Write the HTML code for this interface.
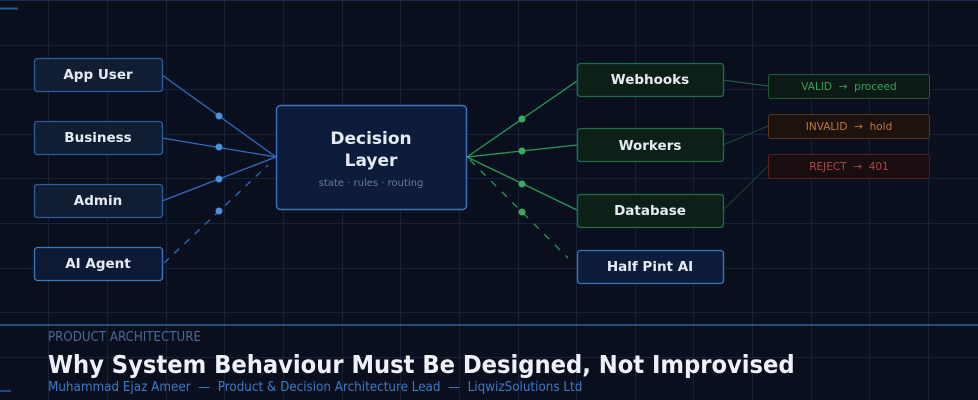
<!DOCTYPE html>
<html><head><meta charset="utf-8"><style>
body{margin:0;background:#0a0f1d;}
svg{display:block}
text{white-space:pre}
.n{font-family:"DejaVu Sans","Liberation Sans",sans-serif;font-weight:bold;font-size:13.5px;fill:#e6ebf3;text-anchor:middle}
.s{font-family:"DejaVu Sans","Liberation Sans",sans-serif;font-size:10px;text-anchor:middle}
.c{font-family:"DejaVu Sans Condensed","DejaVu Sans",sans-serif}
</style></head><body>
<svg width="978" height="400" viewBox="0 0 978 400" xmlns="http://www.w3.org/2000/svg" xml:space="preserve">
<rect width="978" height="400" fill="#0a0f1d"/>
<g stroke="#16223a" stroke-width="1">
<line x1="48.5" y1="0" x2="48.5" y2="400"/><line x1="107.5" y1="0" x2="107.5" y2="400"/><line x1="166.5" y1="0" x2="166.5" y2="400"/><line x1="224.5" y1="0" x2="224.5" y2="400"/><line x1="283.5" y1="0" x2="283.5" y2="400"/><line x1="342.5" y1="0" x2="342.5" y2="400"/><line x1="400.5" y1="0" x2="400.5" y2="400"/><line x1="459.5" y1="0" x2="459.5" y2="400"/><line x1="518.5" y1="0" x2="518.5" y2="400"/><line x1="576.5" y1="0" x2="576.5" y2="400"/><line x1="635.5" y1="0" x2="635.5" y2="400"/><line x1="693.5" y1="0" x2="693.5" y2="400"/><line x1="752.5" y1="0" x2="752.5" y2="400"/><line x1="811.5" y1="0" x2="811.5" y2="400"/><line x1="869.5" y1="0" x2="869.5" y2="400"/><line x1="928.5" y1="0" x2="928.5" y2="400"/>
<line x1="0" y1="45.5" x2="978" y2="45.5"/><line x1="0" y1="89.5" x2="978" y2="89.5"/><line x1="0" y1="134.5" x2="978" y2="134.5"/><line x1="0" y1="178.5" x2="978" y2="178.5"/><line x1="0" y1="223.5" x2="978" y2="223.5"/><line x1="0" y1="268.5" x2="978" y2="268.5"/><line x1="0" y1="312.5" x2="978" y2="312.5"/><line x1="0" y1="357.5" x2="978" y2="357.5"/>
</g>
<line x1="0" y1="0.5" x2="978" y2="0.5" stroke="#1c2c4a"/>
<line x1="0" y1="8.5" x2="18" y2="8.5" stroke="#2a5a9a" stroke-width="2"/>
<line x1="0" y1="391" x2="11" y2="391" stroke="#2a5a9a" stroke-width="1.5"/>
<g stroke="#2f6cc0" stroke-width="1.3" fill="none">
<line x1="162" y1="75" x2="276" y2="157"/>
<line x1="162" y1="138" x2="276" y2="157"/>
<line x1="162" y1="201" x2="276" y2="157"/>
<line x1="164" y1="263" x2="268" y2="165" stroke-dasharray="7,7"/>
</g>
<g fill="#4a90e0"><circle cx="219" cy="116" r="3.5"/><circle cx="219" cy="147" r="3.5"/><circle cx="219" cy="179" r="3.5"/><circle cx="219" cy="211" r="3.5"/></g>
<g stroke="#2a9a5a" stroke-width="1.3" fill="none">
<line x1="467" y1="157" x2="577" y2="81"/>
<line x1="467" y1="157" x2="577" y2="145"/>
<line x1="467" y1="157" x2="577" y2="210"/>
<line x1="470" y1="160" x2="568" y2="258" stroke-dasharray="7,8"/>
</g>
<g fill="#3aaa60"><circle cx="522" cy="119" r="3.5"/><circle cx="522" cy="151" r="3.5"/><circle cx="522" cy="184" r="3.5"/><circle cx="522" cy="212" r="3.5"/></g>
<g stroke-width="1" fill="none">
<line x1="723" y1="80" x2="768" y2="86" stroke="#1f6a45"/>
<line x1="723" y1="145" x2="768" y2="126" stroke="#1d4a3a"/>
<line x1="723" y1="210" x2="768" y2="166" stroke="#1a3e34"/>
</g>
<g fill="#111d33" stroke="#2f5e9c" stroke-width="1.3">
<rect x="34.5" y="58.5" width="128" height="33" rx="3"/>
<rect x="34.5" y="121.5" width="128" height="33" rx="3"/>
<rect x="34.5" y="184.5" width="128" height="33" rx="3"/>
<rect x="34.5" y="247.5" width="128" height="33" rx="3" fill="#0e1a33" stroke="#3a78c8"/>
</g>
<text class="n" x="98" y="79">App User</text>
<text class="n" x="98" y="142">Business</text>
<text class="n" x="98" y="205">Admin</text>
<text class="n" x="98" y="268">AI Agent</text>
<rect x="276.5" y="105.5" width="190" height="104" rx="4" fill="#0d1c3a" stroke="#3a74c0" stroke-width="1.4"/>
<text class="n" x="371" y="144" style="font-size:17px">Decision</text>
<text class="n" x="371" y="166" style="font-size:17px">Layer</text>
<text class="s" x="371" y="186" fill="#6a7c98">state · rules · routing</text>
<g fill="#0c2018" stroke="#1f7048" stroke-width="1.3">
<rect x="577.5" y="63.5" width="146" height="33" rx="3"/>
<rect x="577.5" y="128.5" width="146" height="33" rx="3"/>
<rect x="577.5" y="194.5" width="146" height="33" rx="3"/>
</g>
<rect x="577.5" y="250.5" width="146" height="33" rx="3" fill="#0d1c3a" stroke="#3a74c0" stroke-width="1.3"/>
<text class="n" x="650" y="84">Webhooks</text>
<text class="n" x="650" y="150">Workers</text>
<text class="n" x="650" y="215">Database</text>
<text class="n" x="650" y="271">Half Pint AI</text>
<rect x="768.5" y="74.5" width="161" height="24" rx="2" fill="#0b1a14" stroke="#1d5a38"/>
<rect x="768.5" y="114.5" width="161" height="24" rx="2" fill="#1c130e" stroke="#5a3418"/>
<rect x="768.5" y="154.5" width="161" height="24" rx="2" fill="#1a0d0f" stroke="#5a1e1e"/>
<text class="s" x="849" y="90" fill="#3aa060" style="font-size:10.5px">VALID  →  proceed</text>
<text class="s" x="849" y="130" fill="#c07830" style="font-size:10.5px">INVALID  →  hold</text>
<text class="s" x="849" y="170" fill="#b04848" style="font-size:10.5px">REJECT  →  401</text>
<line x1="0" y1="325" x2="978" y2="325" stroke="#2a4c80" stroke-width="2"/>
<text class="c" x="48" y="341" font-size="13.2" fill="#4a6a98">PRODUCT ARCHITECTURE</text>
<text class="c" x="48" y="373" font-size="25.2" font-weight="bold" fill="#eef2f8">Why System Behaviour Must Be Designed, Not Improvised</text>
<text class="c" x="48" y="391" font-size="13.3" fill="#3a7ac8">Muhammad Ejaz Ameer  —  Product &amp; Decision Architecture Lead  —  LiqwizSolutions Ltd</text>
</svg>
</body></html>
